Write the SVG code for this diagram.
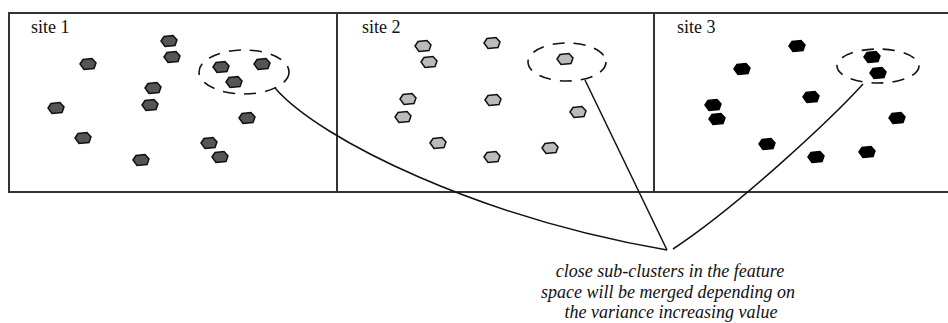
<svg xmlns="http://www.w3.org/2000/svg" xmlns:xlink="http://www.w3.org/1999/xlink" width="948" height="323" viewBox="0 0 948 323">
  <style>
    .frame { fill: none; stroke: #333; stroke-width: 2; }
    .label { font-family: "Liberation Serif", "Times New Roman", serif; font-size: 18px; fill: #111; }
    .note { font-family: "Liberation Serif", "Times New Roman", serif; font-size: 18px; font-style: italic; fill: #111; text-anchor: middle; }
    .ring { fill: none; stroke: #111; stroke-width: 1.6; stroke-dasharray: 12 9; }
    .link { fill: none; stroke: #111; stroke-width: 1.5; }
    .d1 { fill: #555; stroke: #111; stroke-width: 1.5; }
    .d2 { fill: #bbb; stroke: #111; stroke-width: 1.5; }
    .d3 { fill: #000; stroke: #000; stroke-width: 1.5; }
  </style>
  <defs>
    <!-- irregular blob used for every data point -->
    <path id="pt" d="M-8,0 L-5,-4.5 L4,-5.5 L8,-1 L6,4.5 L-4,5.5 Z"/>
  </defs>

  <rect width="948" height="323" fill="#fff"/>

  <!-- three site panels sharing one frame -->
  <g id="frame">
    <path class="frame" d="M948,13 H9 V192 H948"/>
    <line class="frame" x1="337" y1="13" x2="337" y2="192"/>
    <line class="frame" x1="654" y1="13" x2="654" y2="192"/>
  </g>

  <g id="site1">
    <text class="label" x="31" y="33">site 1</text>
    <use xlink:href="#pt" class="d1" x="169" y="41"/>
    <use xlink:href="#pt" class="d1" x="172" y="57"/>
    <use xlink:href="#pt" class="d1" x="88" y="64"/>
    <use xlink:href="#pt" class="d1" x="221" y="67"/>
    <use xlink:href="#pt" class="d1" x="262" y="64"/>
    <use xlink:href="#pt" class="d1" x="234" y="82"/>
    <use xlink:href="#pt" class="d1" x="153" y="88"/>
    <use xlink:href="#pt" class="d1" x="56" y="108"/>
    <use xlink:href="#pt" class="d1" x="150" y="105"/>
    <use xlink:href="#pt" class="d1" x="247" y="118"/>
    <use xlink:href="#pt" class="d1" x="83" y="138"/>
    <use xlink:href="#pt" class="d1" x="209" y="143"/>
    <use xlink:href="#pt" class="d1" x="220" y="157"/>
    <use xlink:href="#pt" class="d1" x="141" y="160"/>
    <ellipse class="ring" cx="244" cy="72" rx="45" ry="22"/>
  </g>

  <g id="site2">
    <text class="label" x="362" y="33">site 2</text>
    <use xlink:href="#pt" class="d2" x="423" y="46"/>
    <use xlink:href="#pt" class="d2" x="492" y="43"/>
    <use xlink:href="#pt" class="d2" x="429" y="62"/>
    <use xlink:href="#pt" class="d2" x="565" y="59"/>
    <use xlink:href="#pt" class="d2" x="408" y="99"/>
    <use xlink:href="#pt" class="d2" x="493" y="100"/>
    <use xlink:href="#pt" class="d2" x="403" y="117"/>
    <use xlink:href="#pt" class="d2" x="578" y="112"/>
    <use xlink:href="#pt" class="d2" x="438" y="143"/>
    <use xlink:href="#pt" class="d2" x="550" y="148"/>
    <use xlink:href="#pt" class="d2" x="492" y="157"/>
    <ellipse class="ring" cx="567" cy="62" rx="39" ry="19"/>
  </g>

  <g id="site3">
    <text class="label" x="677" y="33">site 3</text>
    <use xlink:href="#pt" class="d3" x="797" y="46"/>
    <use xlink:href="#pt" class="d3" x="742" y="69"/>
    <use xlink:href="#pt" class="d3" x="872" y="57"/>
    <use xlink:href="#pt" class="d3" x="878" y="73"/>
    <use xlink:href="#pt" class="d3" x="713" y="105"/>
    <use xlink:href="#pt" class="d3" x="811" y="97"/>
    <use xlink:href="#pt" class="d3" x="717" y="119"/>
    <use xlink:href="#pt" class="d3" x="897" y="118"/>
    <use xlink:href="#pt" class="d3" x="767" y="144"/>
    <use xlink:href="#pt" class="d3" x="816" y="157"/>
    <use xlink:href="#pt" class="d3" x="867" y="152"/>
    <ellipse class="ring" cx="878" cy="66" rx="41" ry="17"/>
  </g>

  <!-- links from each marked sub-cluster down to the note -->
  <g id="connectors">
    <path class="link" d="M275,88 C320,140 480,218 667,250"/>
    <path class="link" d="M585,80 L667,250"/>
    <path class="link" d="M863,84 C835,115 740,205 673,249"/>
  </g>

  <g id="note">
    <text class="note" x="670" y="277">close sub-clusters in the feature</text>
    <text class="note" x="668" y="298">space will be merged depending on</text>
    <text class="note" x="671" y="318">the variance increasing value</text>
  </g>
</svg>
